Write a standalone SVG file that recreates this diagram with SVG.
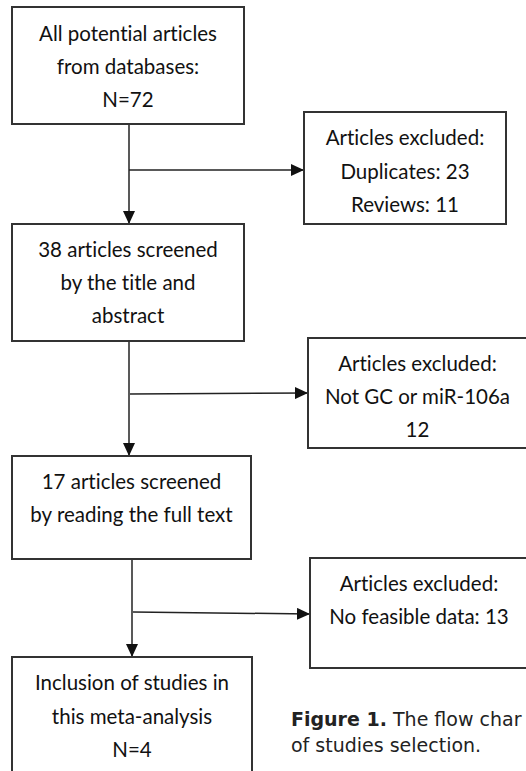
<svg xmlns="http://www.w3.org/2000/svg" width="526" height="771" viewBox="0 0 526 771">
<style>
.box{fill:#fff;stroke:#333;stroke-width:2}
.t{font-family:Lato,"Liberation Sans",sans-serif;font-size:20.5px;fill:#111;text-anchor:middle;font-variant-ligatures:none}
.c{stroke:#222;stroke-width:1.5;fill:none}
.cap{font-family:"DejaVu Sans",sans-serif;font-size:19px;fill:#222}
</style>
<defs>
<marker id="ah" markerUnits="userSpaceOnUse" markerWidth="13" markerHeight="12" refX="13" refY="6" orient="auto">
<path d="M0,0 L13,6 L0,12 Z" fill="#111"/>
</marker>
</defs>
<rect width="526" height="771" fill="#fff"/>
<g id="connectors">
<line class="c" x1="129" y1="124" x2="129" y2="224" marker-end="url(#ah)"/>
<line class="c" x1="129" y1="170" x2="304" y2="170" marker-end="url(#ah)"/>
<line class="c" x1="129" y1="341" x2="129" y2="456" marker-end="url(#ah)"/>
<line class="c" x1="130" y1="394" x2="308" y2="393" marker-end="url(#ah)"/>
<line class="c" x1="132" y1="559" x2="132" y2="657" marker-end="url(#ah)"/>
<line class="c" x1="133" y1="612" x2="310" y2="614" marker-end="url(#ah)"/>
</g>
<g id="n1">
<rect class="box" x="12" y="7" width="232" height="117"/>
<text class="t" x="128" y="41">All potential articles</text>
<text class="t" x="128" y="74">from databases:</text>
<text class="t" x="128" y="107">N=72</text>
</g>
<g id="n2">
<rect class="box" x="304" y="112" width="202" height="112"/>
<text class="t" x="405" y="145">Articles excluded:</text>
<text class="t" x="405" y="179">Duplicates: 23</text>
<text class="t" x="405" y="212">Reviews: 11</text>
</g>
<g id="n3">
<rect class="box" x="12" y="224" width="232" height="117"/>
<text class="t" x="128" y="257">38 articles screened</text>
<text class="t" x="128" y="290">by the title and</text>
<text class="t" x="128" y="323">abstract</text>
</g>
<g id="n4">
<rect class="box" x="308" y="338" width="219" height="110"/>
<text class="t" x="417.5" y="371">Articles excluded:</text>
<text class="t" x="417.5" y="404">Not GC or miR-106a</text>
<text class="t" x="417.5" y="437">12</text>
</g>
<g id="n5">
<rect class="box" x="12" y="456" width="239" height="103"/>
<text class="t" x="131.5" y="489">17 articles screened</text>
<text class="t" x="131.5" y="522">by reading the full text</text>
</g>
<g id="n6">
<rect class="box" x="310" y="558" width="218" height="110"/>
<text class="t" x="419" y="591">Articles excluded:</text>
<text class="t" x="419" y="624">No feasible data: 13</text>
</g>
<g id="n7">
<rect class="box" x="12" y="657" width="240" height="125"/>
<text class="t" x="132" y="690">Inclusion of studies in</text>
<text class="t" x="132" y="724">this meta-analysis</text>
<text class="t" x="132" y="757">N=4</text>
</g>
<g id="caption">
<text class="cap" x="291" y="726"><tspan font-weight="bold">Figure 1.</tspan> The flow char</text>
<text class="cap" x="291" y="752">of studies selection.</text>
</g>
</svg>
